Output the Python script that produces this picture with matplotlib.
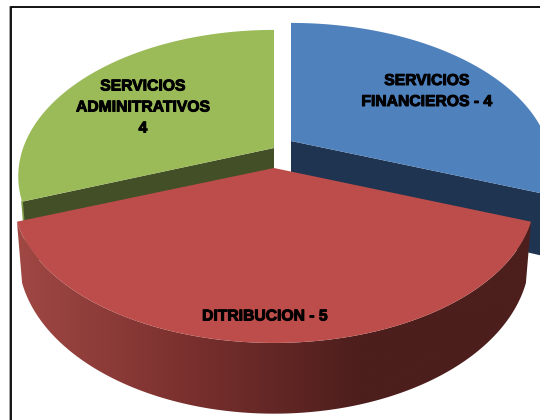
import numpy as np
import matplotlib
matplotlib.use('Agg')
import matplotlib.pyplot as plt
import matplotlib.patheffects as pe
from matplotlib.colors import LinearSegmentedColormap
from matplotlib.patches import Polygon

categories = ["SERVICIOS\nADMINITRATIVOS\n4", "DITRIBUCION - 5", "SERVICIOS\nFINANCIEROS - 4"]
values = [4, 5, 4]
top_colors = ["#9bbb59", "#bc4d4a", "#4f81bd"]
cut_colors = ["#434f27", "#4f1e1c", "#1f3450"]

# apex of each slice on the picture, the slices are pulled apart
apex = [(274, 148), (274, 168), (291, 141)]
spread = [0.98, 1.0, 1.0]
label_pos = [(143, 107), (265, 316), (427, 91)]

# perspective of the tilted pie
A = 256
B = 141
K = 0.194
DEPTH = 57


def project(i, theta, drop=0.0):
    cx, cy = apex[i]
    u = np.cos(theta)
    v = np.sin(theta)
    d = 1 + K * v
    x = cx + A * spread[i] * u / d * (1 - 0.02 * drop)
    return x, cy - B * v / d + drop * DEPTH / d


fractions = np.array(values) / sum(values)
edges = np.radians(90 + 360 * np.concatenate([[0], np.cumsum(fractions)]))

fig = plt.figure(figsize=(5.4, 4.2), dpi=100)
ax = fig.add_axes([0, 0, 1, 1])
ax.set_xlim(0, 540)
ax.set_ylim(420, 0)
ax.axis('off')

wall_cmap = LinearSegmentedColormap.from_list(
    "wall", ["#a04844", "#7a302e", "#4c1e1c", "#4c1e1c"])

# ── slices, back ones first ──
for i in [0, 2, 1]:
    cx, cy = apex[i]
    th = np.linspace(edges[i], edges[i + 1], 200)
    xt, yt = project(i, th)

    if i == 1:
        # red wall has the shading from left to right
        xb, yb = project(i, th, 1)
        wall = Polygon(np.c_[np.r_[xt, xb[::-1]], np.r_[yt, yb[::-1]]],
                       closed=True, fc='none', ec='none', transform=ax.transData)
        ax.add_patch(wall)
        im = ax.imshow(np.linspace(0, 1, 256)[None, :], cmap=wall_cmap, aspect='auto',
                       extent=(15, 535, 420, 200), interpolation='bilinear', zorder=1)
        im.set_clip_path(wall)
        ax.set_xlim(0, 540)
        ax.set_ylim(420, 0)
    else:
        # cut face of the side slices
        end = edges[i + 1] if i == 0 else edges[i]
        xe, ye = project(i, end)
        xd, yd = project(i, end, 1)
        ax.fill([cx, xe, xd, cx], [cy, ye, yd, cy + DEPTH],
                color=cut_colors[i], lw=0)
        if i == 0:
            ax.plot([xe, xd], [ye, yd], color="#7d9a45", lw=1.2, zorder=1)

    ax.fill(np.r_[cx, xt], np.r_[cy, yt], color=top_colors[i], lw=0, zorder=1)

# ── labels ──
for name, (lx, ly) in zip(categories, label_pos):
    ax.text(lx, ly, name, ha='center', va='center', fontsize=11.3,
            family='Liberation Sans', fontweight='bold', color='black',
            linespacing=1.5,
            path_effects=[pe.withStroke(linewidth=0.7, foreground='black')])

# ── frame, only top and left are inside the picture ──
ax.plot([540, 10.5, 10.5], [6.5, 6.5, 420], color='black', lw=1.3,
        solid_joinstyle='miter')
ax.plot([8.8, 8.8], [6, 420], color='#777777', lw=0.5)

fig.savefig('out.png', dpi=100)
